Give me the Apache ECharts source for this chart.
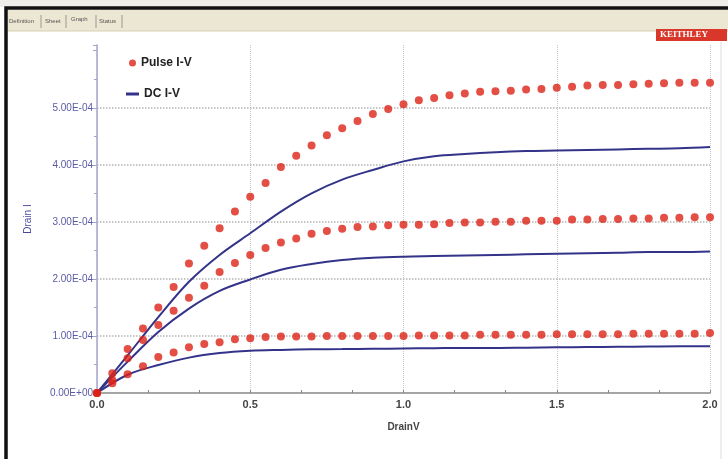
<!DOCTYPE html>
<html>
<head>
<meta charset="utf-8">
<script src="https://cdn.jsdelivr.net/npm/echarts@6/dist/echarts.min.js"></script>
<style>
  html, body { margin: 0; padding: 0; background: #fff; }
  #main { width: 728px; height: 459px; }
</style>
</head>
<body>
<div id="main"></div>
<script>
// drain voltage steps (V)
var drainV = [0, 0.05, 0.1, 0.15, 0.2, 0.25, 0.3, 0.35, 0.4, 0.45, 0.5,
  0.55, 0.6, 0.65, 0.7, 0.75, 0.8, 0.85, 0.9, 0.95, 1.0,
  1.05, 1.1, 1.15, 1.2, 1.25, 1.3, 1.35, 1.4, 1.45, 1.5,
  1.55, 1.6, 1.65, 1.7, 1.75, 1.8, 1.85, 1.9, 1.95, 2.0];
var dcV = [0, 0.1, 0.2, 0.3, 0.4, 0.5, 0.6, 0.7, 0.8, 0.9, 1.0,
  1.1, 1.2, 1.3, 1.4, 1.5, 1.6, 1.7, 1.8, 1.9, 2.0];

// drain current, in units of 1E-04 A
var pulseHigh = [0, 0.345, 0.77, 1.13, 1.50, 1.86, 2.27, 2.58, 2.89, 3.18, 3.44,
  3.68, 3.96, 4.16, 4.34, 4.52, 4.64, 4.77, 4.89, 4.98, 5.06,
  5.13, 5.17, 5.22, 5.25, 5.28, 5.29, 5.30, 5.32, 5.33, 5.35,
  5.37, 5.39, 5.40, 5.40, 5.41, 5.42, 5.43, 5.44, 5.44, 5.44];
var pulseMid = [0, 0.23, 0.61, 0.93, 1.19, 1.44, 1.67, 1.88, 2.12, 2.28, 2.42,
  2.54, 2.64, 2.71, 2.79, 2.84, 2.88, 2.91, 2.92, 2.94, 2.95,
  2.95, 2.96, 2.98, 2.99, 2.99, 3.00, 3.00, 3.02, 3.02, 3.02,
  3.04, 3.04, 3.05, 3.05, 3.06, 3.06, 3.07, 3.07, 3.08, 3.08];
var pulseLow = [0, 0.17, 0.33, 0.47, 0.63, 0.71, 0.80, 0.86, 0.89, 0.94, 0.96,
  0.98, 0.99, 0.99, 0.99, 1.00, 1.00, 1.00, 1.00, 1.00, 1.00,
  1.01, 1.01, 1.01, 1.01, 1.02, 1.02, 1.02, 1.02, 1.02, 1.03,
  1.03, 1.03, 1.03, 1.03, 1.04, 1.04, 1.04, 1.04, 1.04, 1.05];

var dcHigh = [0, 0.66, 1.33, 1.95, 2.42, 2.80, 3.18, 3.50, 3.74, 3.91, 4.06,
  4.15, 4.19, 4.22, 4.24, 4.25, 4.26, 4.27, 4.28, 4.29, 4.31];
var dcMid = [0, 0.55, 1.07, 1.48, 1.79, 1.99, 2.16, 2.26, 2.33, 2.37, 2.39,
  2.40, 2.41, 2.42, 2.43, 2.44, 2.45, 2.46, 2.47, 2.47, 2.48];
var dcLow = [0, 0.32, 0.49, 0.62, 0.70, 0.74, 0.755, 0.765, 0.77, 0.775, 0.78,
  0.785, 0.79, 0.79, 0.795, 0.80, 0.805, 0.81, 0.815, 0.82, 0.82];

// horizontal grid levels (1E-04 A)
var gridLevels = [1, 2, 3, 4, 5];
var tabs = ['Definition', 'Sheet', 'Graph', 'Status'];

function pairs(xs, ys) {
  return xs.map(function (x, i) { return [x, ys[i]]; });
}

var dotColor = '#dc2216';
var lineColor = '#33338a';

function pulse(ys) {
  return {
    name: 'Pulse I-V', type: 'scatter', data: pairs(drainV, ys),
    symbol: 'circle', symbolSize: 8,
    itemStyle: { color: dotColor }, z: 3
  };
}
function dc(ys, withGrid) {
  var s = {
    name: 'DC I-V', type: 'line', data: pairs(dcV, ys),
    symbol: 'none', smooth: 0.35,
    lineStyle: { color: lineColor, width: 2 },
    itemStyle: { color: lineColor }, z: 2
  };
  if (withGrid) {
    s.markLine = {
      silent: true, symbol: 'none', label: { show: false },
      lineStyle: { color: '#b4b4b4', type: 'dotted', width: 1.5 },
      data: gridLevels.map(function (v) { return { yAxis: v }; }),
      z: 1
    };
  }
  return s;
}

// tab strip at the top of the window
var tabLeft = [9, 45, 71, 99];
var tabSep = [41, 66, 96, 122];
var tabGraphics = [];
tabs.forEach(function (t, i) {
  tabGraphics.push({
    type: 'text', left: tabLeft[i], top: i === 2 ? 16 : 18,
    style: { text: t, font: '6px "Liberation Sans"', fill: '#555' }
  });
  tabGraphics.push({
    type: 'line', shape: { x1: tabSep[i], y1: 15, x2: tabSep[i], y2: 28 },
    style: { stroke: '#999', lineWidth: 1 }
  });
});

var myChart = echarts.init(document.getElementById('main'));
var option = {
  backgroundColor: '#ffffff',
  animation: false,
  graphic: [
    { type: 'rect', shape: { x: 0, y: 0, width: 728, height: 7 }, style: { fill: '#efedea' } },
    { type: 'rect', shape: { x: 6, y: 8, width: 730, height: 460 },
      style: { fill: 'none', stroke: '#111', lineWidth: 3.5 } },
    { type: 'rect', shape: { x: 8, y: 10, width: 720, height: 21 }, style: { fill: '#ebe7d2' } },
    { type: 'line', shape: { x1: 8, y1: 31, x2: 728, y2: 31 }, style: { stroke: '#d6d0b6', lineWidth: 1 } },
    { type: 'rect', shape: { x: 656, y: 29, width: 71, height: 12 }, style: { fill: '#d9372a' } },
    { type: 'text', left: 660, top: 30,
      style: { text: 'KEITHLEY', font: 'bold 9px "Liberation Serif"', fill: '#fff' } },
    { type: 'line', shape: { x1: 721, y1: 42, x2: 721, y2: 459 }, style: { stroke: '#ddd', lineWidth: 1 } }
  ].concat(tabGraphics),
  legend: [
    {
      data: [{ name: 'Pulse I-V', icon: 'circle' }],
      left: 124, top: 52, itemWidth: 7, itemHeight: 7, itemGap: 10,
      textStyle: { fontFamily: 'Liberation Sans', fontWeight: 'bold', fontSize: 12, color: '#222' }
    },
    {
      data: [{ name: 'DC I-V', icon: 'rect' }],
      left: 121, top: 83, itemWidth: 13, itemHeight: 3, itemGap: 10,
      textStyle: { fontFamily: 'Liberation Sans', fontWeight: 'bold', fontSize: 12, color: '#222' }
    }
  ],
  grid: { left: 97, right: 18, top: 45, bottom: 66 },
  xAxis: {
    type: 'value', min: 0, max: 2, interval: 0.5,
    name: 'DrainV', nameLocation: 'middle', nameGap: 29,
    nameTextStyle: { fontFamily: 'Liberation Sans', fontSize: 10, fontWeight: 'bold', color: '#444' },
    axisLine: { lineStyle: { color: '#888', width: 1.5 } },
    axisTick: { show: true, length: 3, inside: true, lineStyle: { color: '#888' } },
    minorTick: { show: true, splitNumber: 3, length: 3, lineStyle: { color: '#888' } },
    axisLabel: {
      fontFamily: 'Liberation Sans', fontSize: 11, fontWeight: 'bold', color: '#444', margin: 6,
      formatter: function (v) { return v.toFixed(1); }
    },
    splitLine: { show: true, lineStyle: { color: '#c8c8c8', type: 'dotted', width: 1 } }
  },
  yAxis: {
    type: 'value', min: 0, max: 6.1, interval: 1,
    name: 'Drain I', nameLocation: 'middle', nameGap: 64, nameRotate: 90,
    nameTextStyle: { fontFamily: 'Liberation Sans', fontSize: 10, color: '#4a4a9c' },
    axisLine: { show: true, lineStyle: { color: '#a4a4d0', width: 1.5 } },
    axisTick: { show: true, length: 4, lineStyle: { color: '#a4a4d0' } },
    minorTick: { show: true, splitNumber: 2, length: 3, lineStyle: { color: '#a4a4d0' } },
    axisLabel: {
      fontFamily: 'Liberation Sans', fontSize: 10, color: '#5a5aa6', margin: 4,
      formatter: function (v) {
        if (v > 5.5) return '';
        if (v === 0) return '0.00E+00';
        return v.toFixed(2) + 'E-04';
      }
    },
    splitLine: { show: false }
  },
  series: [
    dc(dcHigh, true), dc(dcMid), dc(dcLow),
    pulse(pulseHigh), pulse(pulseMid), pulse(pulseLow)
  ]
};
myChart.setOption(option);
</script>
</body>
</html>
